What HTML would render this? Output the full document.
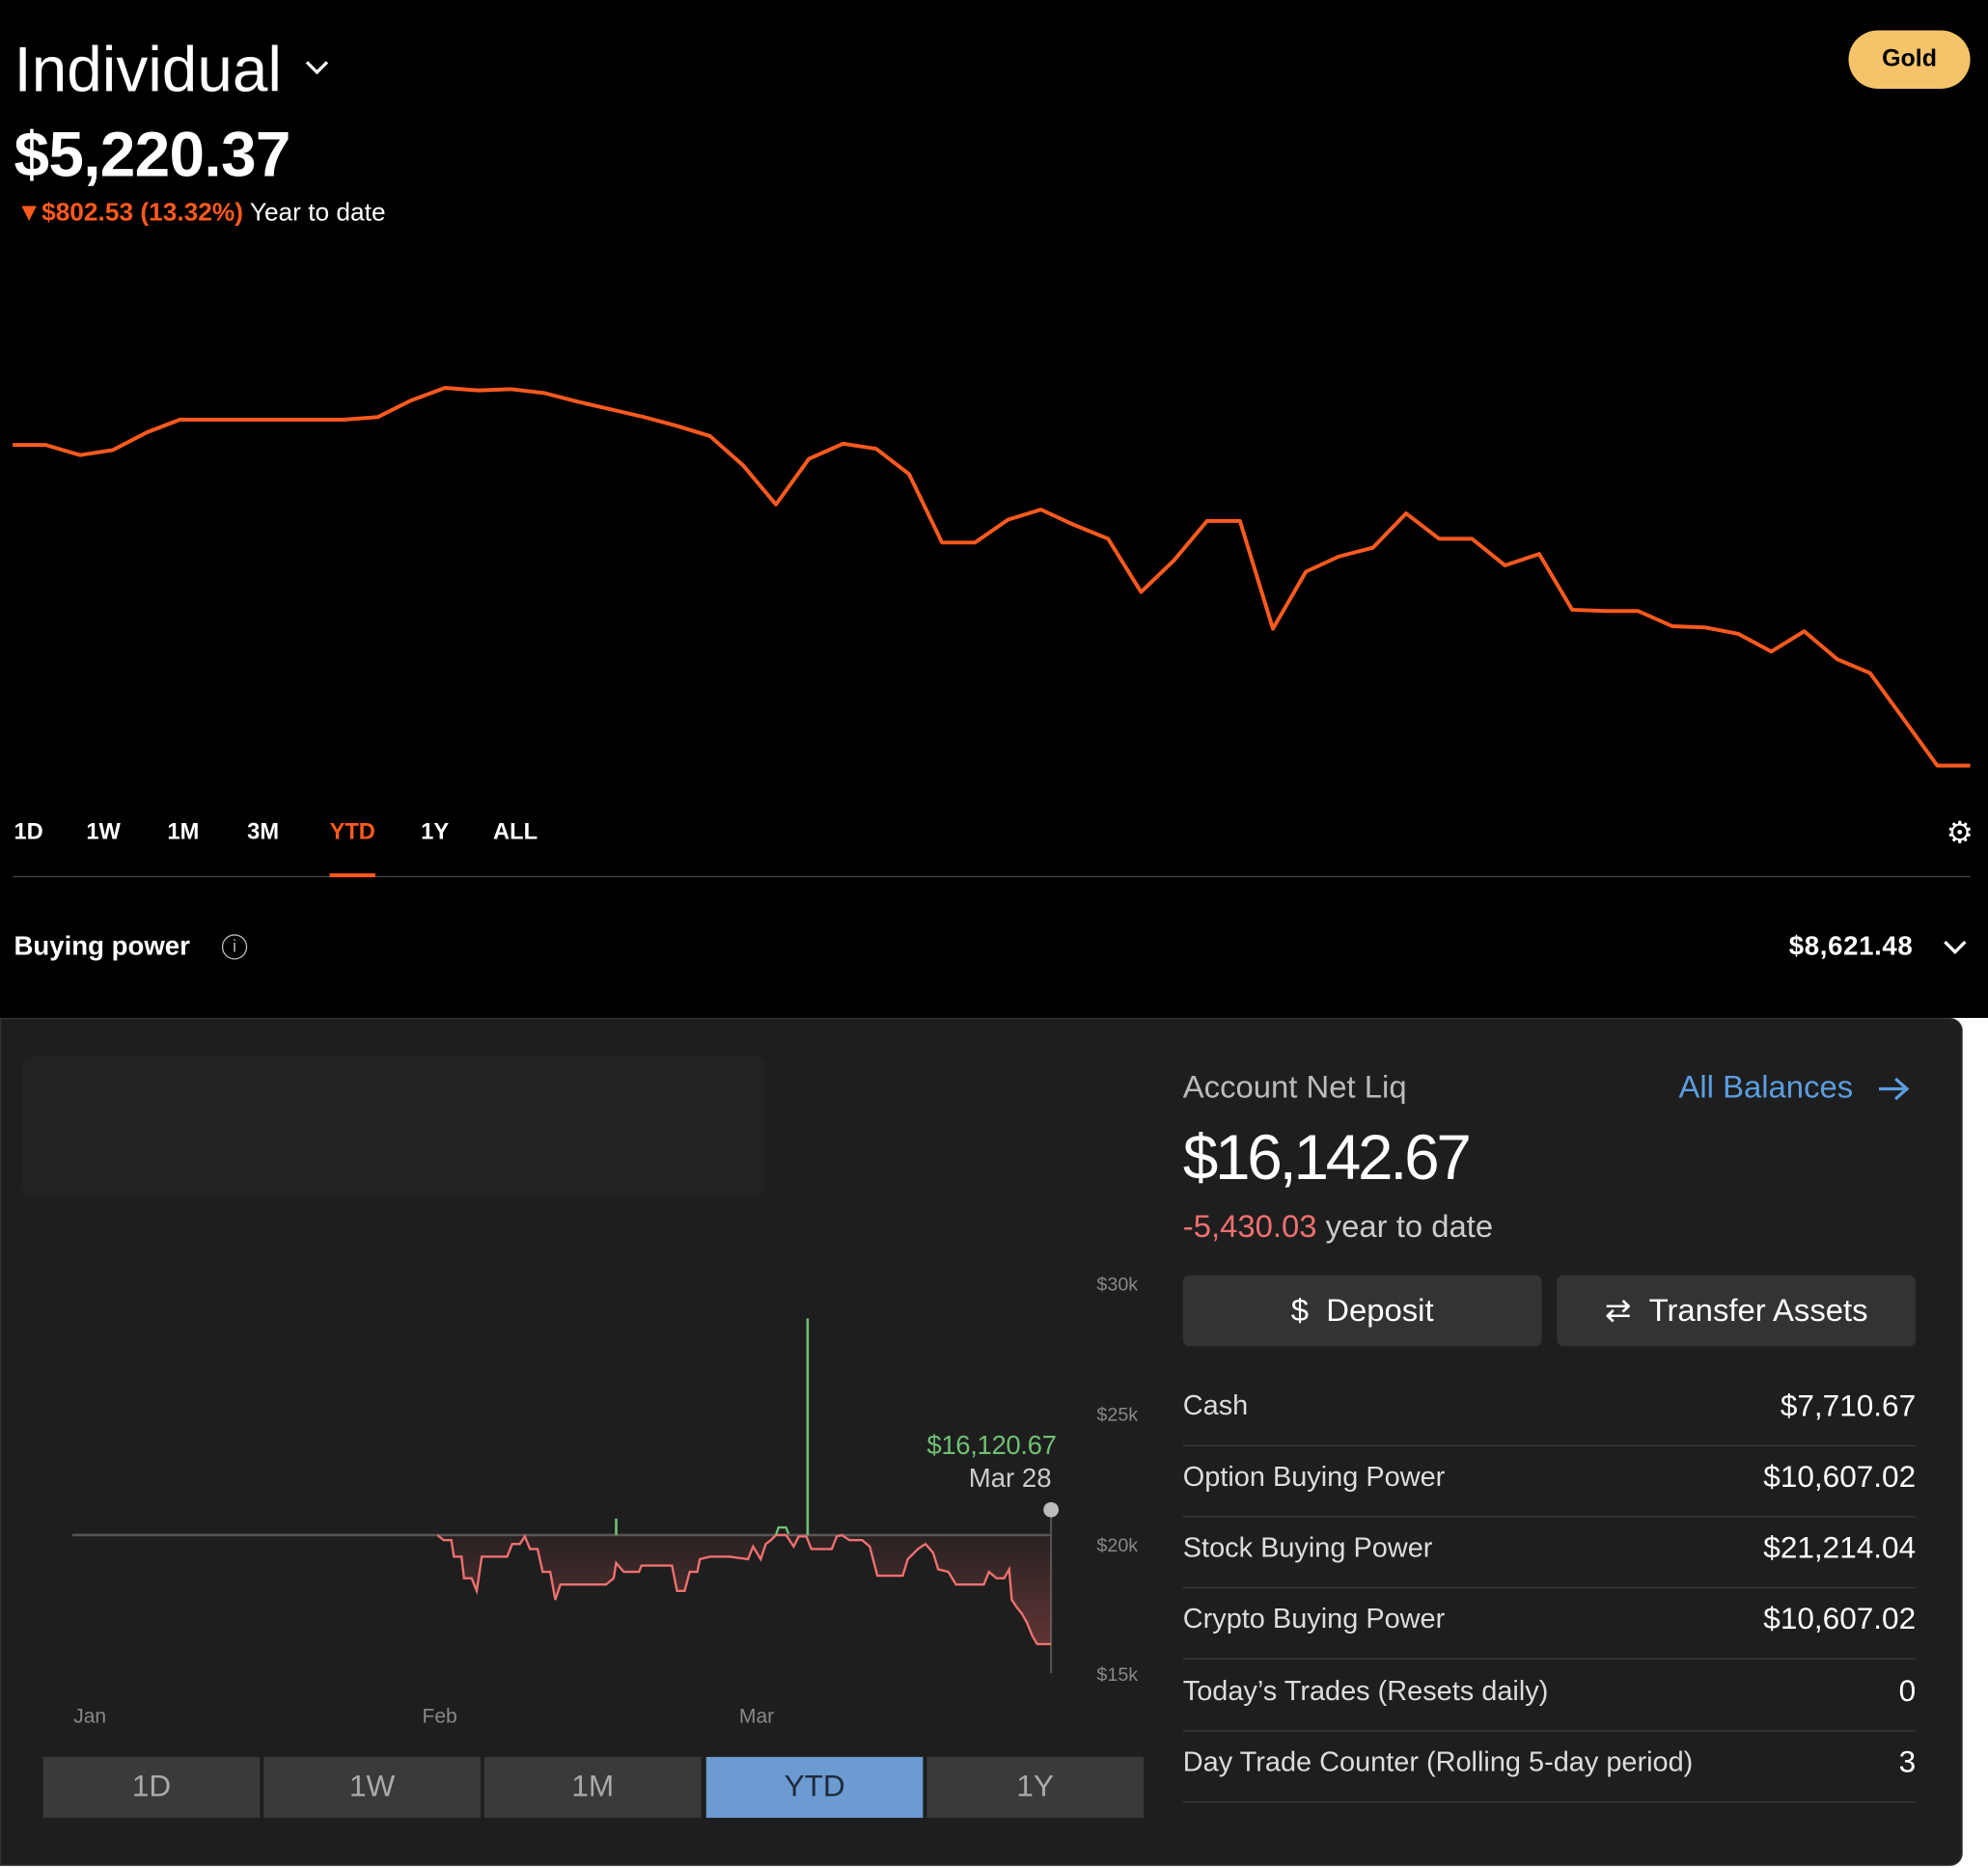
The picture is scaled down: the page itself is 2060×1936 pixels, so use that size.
<!DOCTYPE html>
<html><head><meta charset="utf-8"><style>
html,body{margin:0;padding:0;background:#fff;overflow:hidden}
#w{width:1568px;height:1474px;transform:scale(1.31378);transform-origin:0 0;position:relative;font-family:"Liberation Sans",sans-serif;background:#fff}
.top{position:absolute;left:0;top:0;width:1568px;height:803px;background:#000;color:#fff}
.a{position:absolute;white-space:nowrap}
.panel{position:absolute;left:0;top:803px;width:1548px;height:669px;background:#1e1e1e;border-radius:0 10px 10px 0;border:1px solid #333;box-sizing:border-box}
.row{position:absolute;left:933px;width:578px;height:56px;border-bottom:1px solid #3a3a3a;color:#ddd;font-size:22px}
.row span{position:absolute;top:12px}
.row .r{right:0;color:#fff;font-size:24px}
.btn{position:absolute;top:1006px;height:56px;background:#333;border-radius:5px;color:#fff;font-size:25px;text-align:center;line-height:56px}
.tb{position:absolute;top:1386px;height:48px;background:#3a3a3a;color:#aaa;font-size:24px;text-align:center;line-height:48px;width:171px}
</style></head><body><div id="w">
<div class="top">
<div class="a" style="left:11px;top:26px;font-size:50px;font-weight:500">Individual</div>
<svg class="a" style="left:240px;top:46px" width="20" height="14"><path d="M2 3 L10 11 L18 3" stroke="#fff" stroke-width="2.5" fill="none"/></svg>
<div class="a" style="left:1458px;top:24px;width:96px;height:46px;border-radius:23px;background:#f5c46a;color:#000;font-weight:bold;font-size:19px;text-align:center;line-height:46px">Gold</div>
<div class="a" style="left:11px;top:93px;font-size:50px;font-weight:bold;letter-spacing:-0.5px">$5,220.37</div>
<div class="a" style="left:13px;top:157px;font-size:20px"><span style="color:#ff5a1f;font-weight:bold">▼$802.53 (13.32%)</span> Year to date</div>
<svg class="a" style="left:0;top:0" width="1568" height="700"><polyline fill="none" stroke="#ff5a1f" stroke-width="3" stroke-linejoin="round" points="10,351 36,351 63,359 89,355 116,341 142,331 168,331 272,331 298,329 324,316 351,306 377,308 403,307 429,310 456,317 482,323 508,329 534,336 560,344 586,367 612,398 638,362 665,350 691,354 717,374 743,428 769,428 795,410 821,402 847,414 874,425 900,467 926,442 952,411 978,411 1004,496 1030,451 1056,439 1083,432 1109,405 1135,425 1161,425 1187,446 1214,437 1240,481 1266,482 1292,482 1319,494 1345,495 1371,500 1397,514 1423,498 1449,520 1475,531 1502,568 1528,604 1554,604"/></svg>
<div class="a" style="left:11px;top:646px;font-size:18px;font-weight:bold">1D</div>
<div class="a" style="left:68px;top:646px;font-size:18px;font-weight:bold">1W</div>
<div class="a" style="left:132px;top:646px;font-size:18px;font-weight:bold">1M</div>
<div class="a" style="left:195px;top:646px;font-size:18px;font-weight:bold">3M</div>
<div class="a" style="left:260px;top:646px;font-size:18px;font-weight:bold;color:#ff5a1f">YTD</div>
<div class="a" style="left:332px;top:646px;font-size:18px;font-weight:bold">1Y</div>
<div class="a" style="left:389px;top:646px;font-size:18px;font-weight:bold">ALL</div>
<div class="a" style="left:1535px;top:646px;font-size:24px;line-height:24px">⚙</div>
<div class="a" style="left:10px;top:691px;width:1544px;height:1px;background:#444"></div>
<div class="a" style="left:260px;top:689px;width:36px;height:3px;background:#ff5a1f"></div>
<div class="a" style="left:11px;top:735px;font-size:21px;font-weight:bold">Buying power</div>
<div class="a" style="left:175px;top:737px;width:18px;height:18px;border:1.5px solid #bbb;border-radius:50%;font-size:13px;text-align:center;line-height:18px;color:#bbb">i</div>
<div class="a" style="left:1411px;top:735px;font-size:21px;font-weight:bold;letter-spacing:0.5px">$8,621.48</div>
<svg class="a" style="left:1532px;top:740px" width="20" height="14"><path d="M2 3 L10 11 L18 3" stroke="#fff" stroke-width="2.5" fill="none"/></svg>
</div>
<div class="panel"></div>
<div class="a" style="left:18px;top:833px;width:585px;height:112px;background:#222;border-radius:8px"></div>
<svg class="a" style="left:0;top:0" width="910" height="1474">
<defs><linearGradient id="g" x1="0" y1="1211" x2="0" y2="1300" gradientUnits="userSpaceOnUse"><stop offset="0" stop-color="#ff6b6b" stop-opacity="0.05"/><stop offset="1" stop-color="#ff6b6b" stop-opacity="0.3"/></linearGradient></defs>
<line x1="57" y1="1211" x2="829" y2="1211" stroke="#555" stroke-width="2"/>
<line x1="829" y1="1191" x2="829" y2="1320" stroke="#555" stroke-width="1.5"/>
<polygon fill="url(#g)" points="345,1211 350,1215 356,1215 358,1228 364,1228 366,1245 372,1245 376,1255 380,1228 400,1228 404,1218 410,1218 414,1212 418,1222 424,1222 428,1240 434,1240 438,1262 442,1250 478,1250 484,1245 486,1233 492,1240 504,1240 506,1235 530,1235 534,1255 540,1255 544,1240 550,1240 552,1230 560,1228 575,1228 590,1230 594,1220 600,1230 604,1218 608,1215 612,1211 620,1211 626,1220 630,1212 636,1212 640,1222 656,1222 660,1212 664,1211 670,1215 680,1215 686,1220 692,1243 712,1243 716,1230 724,1222 730,1218 736,1225 740,1238 748,1240 754,1250 776,1250 780,1240 786,1245 792,1245 796,1238 798,1262 802,1268 806,1273 810,1280 814,1290 818,1297 829,1297 829,1211"/>
<polyline fill="none" stroke="#f07070" stroke-width="1.8" points="345,1211 350,1215 356,1215 358,1228 364,1228 366,1245 372,1245 376,1255 380,1228 400,1228 404,1218 410,1218 414,1212 418,1222 424,1222 428,1240 434,1240 438,1262 442,1250 478,1250 484,1245 486,1233 492,1240 504,1240 506,1235 530,1235 534,1255 540,1255 544,1240 550,1240 552,1230 560,1228 575,1228 590,1230 594,1220 600,1230 604,1218 608,1215 612,1211 620,1211 626,1220 630,1212 636,1212 640,1222 656,1222 660,1212 664,1211 670,1215 680,1215 686,1220 692,1243 712,1243 716,1230 724,1222 730,1218 736,1225 740,1238 748,1240 754,1250 776,1250 780,1240 786,1245 792,1245 796,1238 798,1262 802,1268 806,1273 810,1280 814,1290 818,1297 829,1297"/>
<line x1="637" y1="1040" x2="637" y2="1211" stroke="#6fbf73" stroke-width="2"/>
<line x1="486" y1="1198" x2="486" y2="1211" stroke="#6fbf73" stroke-width="2"/>
<polyline fill="none" stroke="#6fbf73" stroke-width="1.8" points="612,1211 614,1205 620,1205 622,1210"/>
<circle cx="829" cy="1191" r="6" fill="#bbb"/>
</svg>
<div class="a" style="left:731px;top:1129px;color:#6fbf73;font-size:21px;letter-spacing:-0.3px">$16,120.67</div>
<div class="a" style="left:764px;top:1155px;color:#ccc;font-size:21px">Mar 28</div>
<div class="a" style="left:865px;top:1005px;color:#888;font-size:15px">$30k</div>
<div class="a" style="left:865px;top:1108px;color:#888;font-size:15px">$25k</div>
<div class="a" style="left:865px;top:1211px;color:#888;font-size:15px">$20k</div>
<div class="a" style="left:865px;top:1313px;color:#888;font-size:15px">$15k</div>
<div class="a" style="left:58px;top:1346px;color:#888;font-size:16px">Jan</div>
<div class="a" style="left:333px;top:1346px;color:#888;font-size:16px">Feb</div>
<div class="a" style="left:583px;top:1346px;color:#888;font-size:16px">Mar</div>
<div class="tb" style="left:34px">1D</div>
<div class="tb" style="left:208px">1W</div>
<div class="tb" style="left:382px">1M</div>
<div class="tb" style="left:557px;background:#6b9bd1;color:#1e2a3a">YTD</div>
<div class="tb" style="left:731px">1Y</div>
<div class="a" style="left:933px;top:844px;color:#bbb;font-size:25px">Account Net Liq</div>
<div class="a" style="left:1324px;top:844px;color:#5b9ee0;font-size:25px">All Balances</div>
<svg class="a" style="left:1480px;top:848px" width="28" height="22"><path d="M2 11 H24 M15 3 L24 11 L15 19" stroke="#5b9ee0" stroke-width="2.5" fill="none"/></svg>
<div class="a" style="left:933px;top:884px;color:#fff;font-size:50px;letter-spacing:-2.5px">$16,142.67</div>
<div class="a" style="left:933px;top:954px;font-size:25px"><span style="color:#f07070">-5,430.03</span> <span style="color:#ccc">year to date</span></div>
<div class="btn" style="left:933px;width:283px">$&nbsp;&nbsp;Deposit</div>
<div class="btn" style="left:1228px;width:283px">⇄&nbsp;&nbsp;Transfer Assets</div>
<div class="row" style="top:1084px"><span>Cash</span><span class="r">$7,710.67</span></div>
<div class="row" style="top:1140px"><span>Option Buying Power</span><span class="r">$10,607.02</span></div>
<div class="row" style="top:1196px"><span>Stock Buying Power</span><span class="r">$21,214.04</span></div>
<div class="row" style="top:1252px"><span>Crypto Buying Power</span><span class="r">$10,607.02</span></div>
<div class="row" style="top:1309px"><span>Today’s Trades (Resets daily)</span><span class="r">0</span></div>
<div class="row" style="top:1365px"><span>Day Trade Counter (Rolling 5-day period)</span><span class="r">3</span></div>
</div></body></html>
